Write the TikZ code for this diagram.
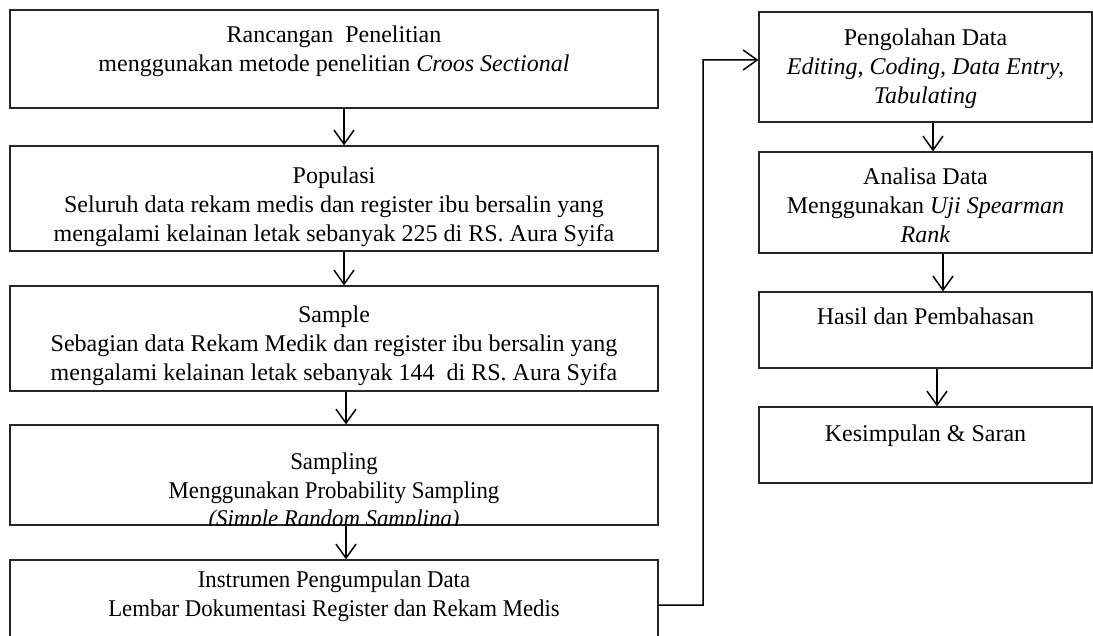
\documentclass[tikz,border=0pt]{standalone}
\usepackage{fontspec}
\setmainfont{Liberation Serif}
\newfontfamily\narrowserif[FakeStretch=0.95]{Liberation Serif}
\usetikzlibrary{arrows.meta}
\tikzset{
  box/.style={draw=black!85, line width=1.2bp, rectangle, inner sep=0pt},
  txt/.style={align=center, inner sep=0pt, anchor=north, font=\fontsize{24bp}{29bp}\selectfont},
  ntxt/.style={txt, font=\fontsize{24bp}{28.5bp}\selectfont\narrowserif},
  arr/.style={draw=black, line width=1.5bp, -{Straight Barb[length=14bp,width=20bp,line width=1.5bp]}},
  link/.style={draw=black, line width=1.5bp}
}
\begin{document}
\begin{tikzpicture}[x=1bp,y=-1bp]
\path[use as bounding box, clip] (0,0) rectangle (1093,636);
% left column boxes
\node[box, minimum width=648bp, minimum height=98bp]  (b1) at (334,59) {};
\node[box, minimum width=648bp, minimum height=105bp] (b2) at (334,198.5) {};
\node[box, minimum width=648bp, minimum height=105bp] (b3) at (334,338.5) {};
\node[box, minimum width=648bp, minimum height=100bp] (b4) at (334,475) {};
\node[box, minimum width=648bp, minimum height=110bp] (b5) at (334,615) {};
% right column boxes
\node[box, minimum width=333bp, minimum height=110bp] (r1) at (925.5,67) {};
\node[box, minimum width=333bp, minimum height=101bp] (r2) at (925.5,202.5) {};
\node[box, minimum width=333bp, minimum height=76bp]  (r3) at (925.5,330) {};
\node[box, minimum width=333bp, minimum height=76bp]  (r4) at (925.5,445) {};
% texts
\node[txt] (t1) at (334,22.4) {\strut Rancangan\ \ Penelitian\\menggunakan metode penelitian \textit{Croos Sectional}};
\node[txt] (t2) at (334,163.4) {\strut Populasi\\Seluruh data rekam medis dan register ibu bersalin yang\\mengalami kelainan letak sebanyak 225 di RS. Aura Syifa};
\node[txt] (t3) at (334,302.4) {\strut Sample\\Sebagian data Rekam Medik dan register ibu bersalin yang\\mengalami kelainan letak sebanyak 144\ \ di RS. Aura Syifa};
\begin{scope}
\clip (b4.north west) rectangle ([yshift=0.6bp]b4.south east);
\node[ntxt] (t4) at (334,449.4) {\strut Sampling\\Menggunakan Probability Sampling\\\textit{(Simple Random Sampling)}};
\end{scope}
\node[ntxt] (t5) at (334,567.4) {\strut Instrumen Pengumpulan Data\\Lembar Dokumentasi Register dan Rekam Medis};
\node[txt] (u1) at (925.5,25.4) {\strut Pengolahan Data\\\textit{Editing, Coding, Data Entry,}\\\textit{Tabulating}};
\node[txt] (u2) at (925.5,164.4) {\strut Analisa Data\\Menggunakan \textit{Uji Spearman}\\\textit{Rank}};
\node[txt] (u3) at (925.5,304.4) {\strut Hasil dan Pembahasan};
\node[txt] (u4) at (925.5,421.4) {\strut Kesimpulan \& Saran};
% arrows left
\draw[arr] ([xshift=10bp]b1.south) -- ([xshift=10bp]b2.north);
\draw[arr] ([xshift=10bp]b2.south) -- ([xshift=10bp]b3.north);
\draw[arr] ([xshift=12bp]b3.south) -- ([xshift=12bp]b4.north);
\draw[arr] ([xshift=12bp]b4.south) -- ([xshift=12bp]b5.north);
% arrows right
\draw[arr] ([xshift=7.5bp]r1.south) -- ([xshift=7.5bp]r2.north);
\draw[arr] ([xshift=17.5bp]r2.south) -- ([xshift=17.5bp]r3.north);
\draw[arr] ([xshift=11.5bp]r3.south) -- ([xshift=11.5bp]r4.north);
% connector
\coordinate (bend) at (703,60);
\draw[arr] ([yshift=10bp]b5.east) -| (bend) -- ([yshift=7bp]r1.west);
\end{tikzpicture}
\end{document}
